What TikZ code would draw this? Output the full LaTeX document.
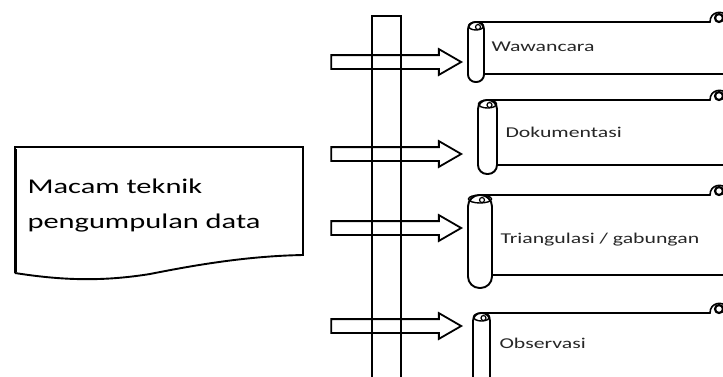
\documentclass[tikz,border=0pt]{standalone}
\usepackage{fontspec}
\newfontfamily\diagfont[FakeStretch=1.45]{Carlito}
\usetikzlibrary{shapes.arrows}

\tikzset{
  outline/.style={draw=black, line width=1.9pt},
  blockarrow/.style={single arrow, draw=black, line width=1.8pt, inner sep=6pt,
    single arrow head extend=6pt, single arrow tip angle=60,
    minimum height=130pt, anchor=tip},
  scrolltext/.style={anchor=west, text=black!85, font=\diagfont\fontsize{15}{18}\selectfont},
  doctext/.style={anchor=west, align=left, font=\diagfont\fontsize{21}{35}\selectfont}
}

% scroll: x left, x right, y top, y bottom, y of lower edge
\newcommand{\scrollshape}[5]{%
  \pgfmathsetmacro{\xc}{(#1+#2)/2}
  \pgfmathsetmacro{\rr}{(#2-#1)/2-0.5}
  \draw[outline, rounded corners=\rr pt] (#1,#3) rectangle (#2,#4);
  \draw[outline, line width=1.4pt] (\xc,#3+4) ellipse [x radius=\rr pt, y radius=4pt];
  \draw[outline, line width=1.2pt] (\xc+2,#3+5) circle [radius=2.5pt];
  \draw[outline, line width=2.4pt] (\xc,#3) -- (590,#3);
  \draw[outline, line width=1.6pt] (590,#3) -- (710,#3)
    .. controls (710,#3-11) and (723,#3-12) .. (727,#3-6);
  \draw[outline, line width=2.2pt] (719,#3-4) circle [radius=4pt];
  \draw[outline] (#2,#5) -- (730,#5);
}

\begin{document}
\begin{tikzpicture}[x=1pt, y=-1pt]

    \useasboundingbox (0,0) rectangle (723,376);
    \clip (0,0) rectangle (723,376);

    % document shape
    \draw[outline] (15,273) -- (15,147) -- (303,147) -- (303,255)
      .. controls (250,256) and (200,264) .. (150,274)
      .. controls (100,282) and (60,280) .. (15,273);
    \draw[line width=3pt] (15,149) -- (15,272);
    \node[doctext] (doc) at (24,205.5) {Macam teknik\\pengumpulan data};

    % arrows
    \node[blockarrow] (arr1) at (463,62) {};
    \node[blockarrow] (arr2) at (463,154) {};
    \node[blockarrow] (arr3) at (463,228) {};
    \node[blockarrow] (arr4) at (463,326) {};

    % bar
    \draw[outline] (372,380) -- (372,16) -- (401,16) -- (401,380);

    % Wawancara
    \scrollshape{468}{484}{22}{82}{74}
    \node[scrolltext] (wawancara) at (488,47) {Wawancara};

    % Dokumentasi
    \scrollshape{478}{497}{100}{174}{165}
    \node[scrolltext] (dokumentasi) at (502,132) {Dokumentasi};

    % Triangulasi
    \scrollshape{468}{492}{195}{288}{275}
    \node[scrolltext] (triangulasi) at (497,240) {Triangulasi / gabungan};

    % Observasi
    \scrollshape{473}{490}{313}{395}{386}
    \node[scrolltext] (observasi) at (496,343) {Observasi};

\end{tikzpicture}
\end{document}
